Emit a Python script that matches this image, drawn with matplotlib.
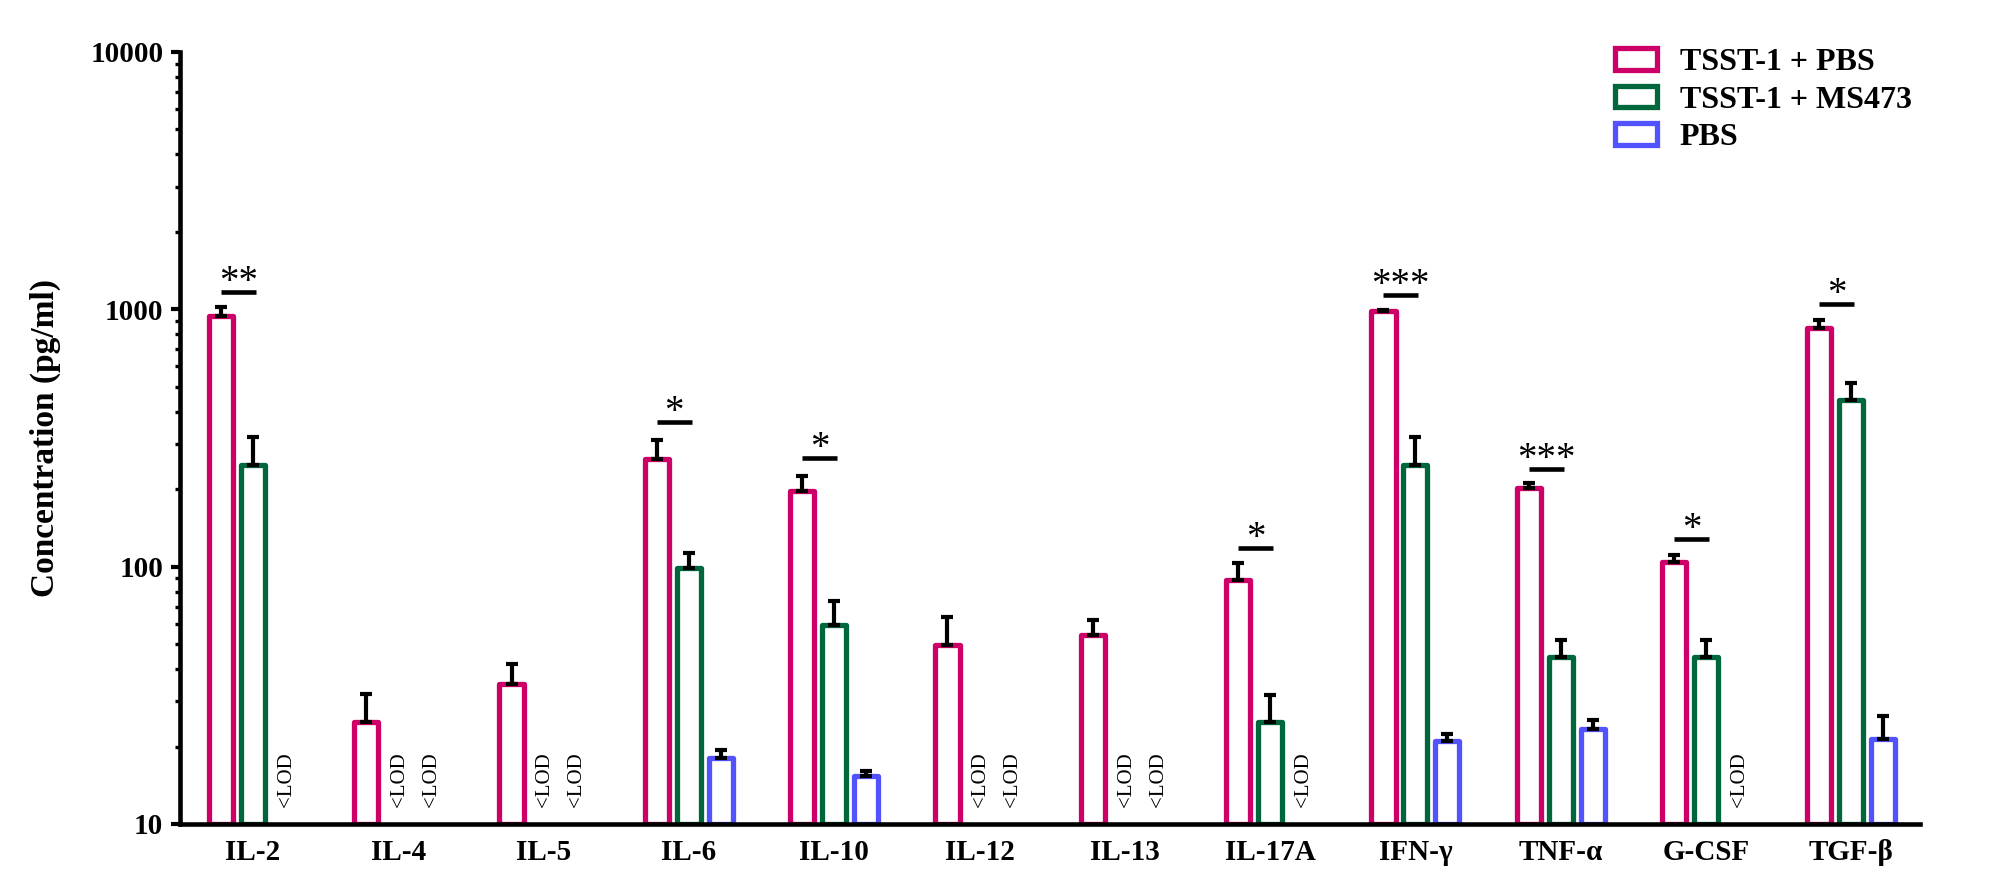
import numpy as np
import matplotlib
matplotlib.use("Agg")
import matplotlib.pyplot as plt
from matplotlib.patches import Rectangle

plt.rcParams['font.family'] = ['Liberation Serif', 'DejaVu Serif']

# ---------------- data ----------------
categories = ['IL-2', 'IL-4', 'IL-5', 'IL-6', 'IL-10', 'IL-12', 'IL-13',
              'IL-17A', 'IFN-γ', 'TNF-α', 'G-CSF', 'TGF-β']
series_names = ['TSST-1 + PBS', 'TSST-1 + MS473', 'PBS']

nan = np.nan
tsst_pbs = [940, 25, 35, 262, 197, 49.5, 54.5, 89, 985, 203, 104, 845]
tsst_pbs_err = [85, 7, 7, 49, 28, 14, 7.5, 14.5, 10, 7.5, 7, 61]

tsst_ms473 = [248, nan, nan, 99, 59.5, nan, nan, 24.8, 248, 44.7, 44.7, 445]
tsst_ms473_err = [70, nan, nan, 14, 14, nan, nan, 7, 70, 7, 7, 72]

pbs = [nan, nan, nan, 18, 15.4, nan, nan, nan, 21, 23.4, nan, 21.3]
pbs_err = [nan, nan, nan, 1.4, 0.7, nan, nan, nan, 1.4, 2, nan, 5]

# significance: category, stars, height of bar line
sig_categories = ['IL-2', 'IL-6', 'IL-10', 'IL-17A', 'IFN-γ', 'TNF-α', 'G-CSF', 'TGF-β']
sig_stars = ['**', '*', '*', '*', '***', '***', '*', '*']
sig_heights = [1170, 364, 265, 118, 1140, 239, 128, 1047]

y_ticks = [10, 100, 1000, 10000]
y_ticklabels = ['10', '100', '1000', '10000']
ylabel = 'Concentration (pg/ml)'
lod_text = '<LOD'

colors = ['#CC0066', '#00663C', '#5252FF']

# ---------------- figure ----------------
W, H = 2008, 892
fig = plt.figure(figsize=(W / 100, H / 100), dpi=100)
ax = fig.add_axes([180 / W, 68 / H, 1740 / W, 772 / H])

BASE = 10.0
bar_w = 0.167
step = 0.22
x = np.arange(len(categories))

all_vals = [tsst_pbs, tsst_ms473, pbs]
all_errs = [tsst_pbs_err, tsst_ms473_err, pbs_err]

for k, (vals, errs, col) in enumerate(zip(all_vals, all_errs, colors)):
    vals = np.array(vals, dtype=float)
    errs = np.array(errs, dtype=float)
    xs = x + (k - 1) * step
    ok = ~np.isnan(vals)
    ax.bar(xs[ok], vals[ok] - BASE, bottom=BASE, width=bar_w,
           facecolor='white', edgecolor=col, linewidth=3.8,
           joinstyle='round', zorder=2, clip_on=True)
    ax.errorbar(xs[ok], vals[ok], yerr=[np.zeros(ok.sum()), errs[ok]],
                fmt='none', ecolor='black', elinewidth=3.0, capsize=4.5,
                capthick=3.0, zorder=3)
    for xi in xs[~ok]:
        ax.annotate(lod_text, xy=(xi, BASE), xytext=(1, 12),
                    textcoords='offset points', rotation=90,
                    ha='center', va='bottom', fontsize=15,
                    annotation_clip=False)

# significance bars
for cat, stars, h in zip(sig_categories, sig_stars, sig_heights):
    i = categories.index(cat)
    x0 = i - step
    x1 = i + 0.02
    ax.plot([x0, x1], [h, h], color='black', lw=3.3, solid_capstyle='butt',
            zorder=4)
    ax.text((x0 + x1) / 2, h, stars, ha='center', va='baseline',
            fontsize=28, zorder=4)

ax.set_yscale('log')
ax.set_ylim(10, 10000)
ax.set_xlim(-0.502, 11.473)
ax.set_yticks(y_ticks)
ax.set_yticklabels(y_ticklabels, fontsize=21, fontweight='bold')
ax.set_xticks(x)
ax.set_xticklabels(categories, fontsize=21, fontweight='bold')
ax.tick_params(axis='x', length=0, pad=11)
ax.tick_params(axis='y', which='major', direction='out', length=6.5,
               width=3.0, pad=5.5)
ax.tick_params(axis='y', which='minor', direction='out', length=3.5,
               width=2.4)

for s in ['top', 'right']:
    ax.spines[s].set_visible(False)
for s in ['left', 'bottom']:
    ax.spines[s].set_linewidth(3.3)

ax.set_ylabel(ylabel, fontsize=24, fontweight='bold')
ax.yaxis.set_label_coords((61 - 180) / 1740, 0.5)

handles = [Rectangle((0, 0), 1, 1, facecolor='white', edgecolor=c, linewidth=3.8,
                     joinstyle='round') for c in colors]
leg = fig.legend(handles, series_names, loc='upper left',
                 bbox_to_anchor=(1615 / W, 1 - 48 / H), frameon=False,
                 borderpad=0, borderaxespad=0, handlelength=1.32,
                 handleheight=0.66, handletextpad=0.7, labelspacing=0.27,
                 prop={'family': 'Liberation Serif', 'weight': 'bold', 'size': 23})

fig.savefig('out.png', dpi=100, facecolor='white')
